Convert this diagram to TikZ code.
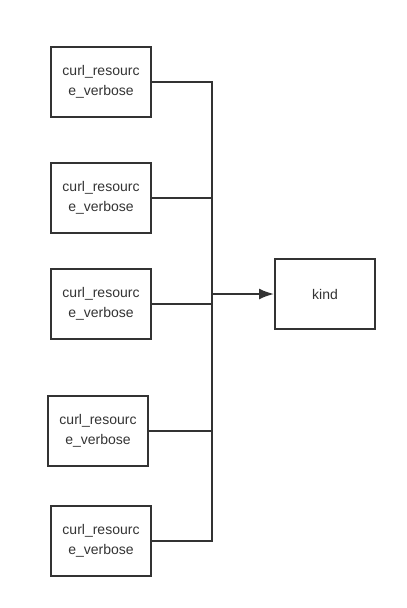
\documentclass[tikz,border=0pt]{standalone}
\usepackage{fontspec}
\setmainfont{Liberation Sans}
\usetikzlibrary{arrows.meta}
\tikzset{
    srcbox/.style={draw=black!80, line width=2pt, minimum width=100pt, minimum height=70pt,
        inner sep=0pt, align=center, font=\fontsize{14}{20}\selectfont, text=black!80},
    link/.style={draw=black!80, line width=2pt}
}
\begin{document}
\begin{tikzpicture}[x=1pt,y=-1pt]
\useasboundingbox (0,0) rectangle (407,608);

\node[srcbox](src1) at (101,82){curl\_resourc\\e\_verbose};
\node[srcbox](src2) at (101,198){curl\_resourc\\e\_verbose};
\node[srcbox](src3) at (101,304){curl\_resourc\\e\_verbose};
\node[srcbox](src4) at (98,431){curl\_resourc\\e\_verbose};
\node[srcbox](src5) at (101,541){curl\_resourc\\e\_verbose};
\node[srcbox](kind) at (325,294){kind};

\coordinate (join) at (212,294);

\foreach \i in {1,...,5}
{
    \draw[link] (src\i.east) -| (join);
}
\draw[link,-{Latex[length=15pt,width=11pt]}] (join) -- (kind.west);

\end{tikzpicture}
\end{document}
